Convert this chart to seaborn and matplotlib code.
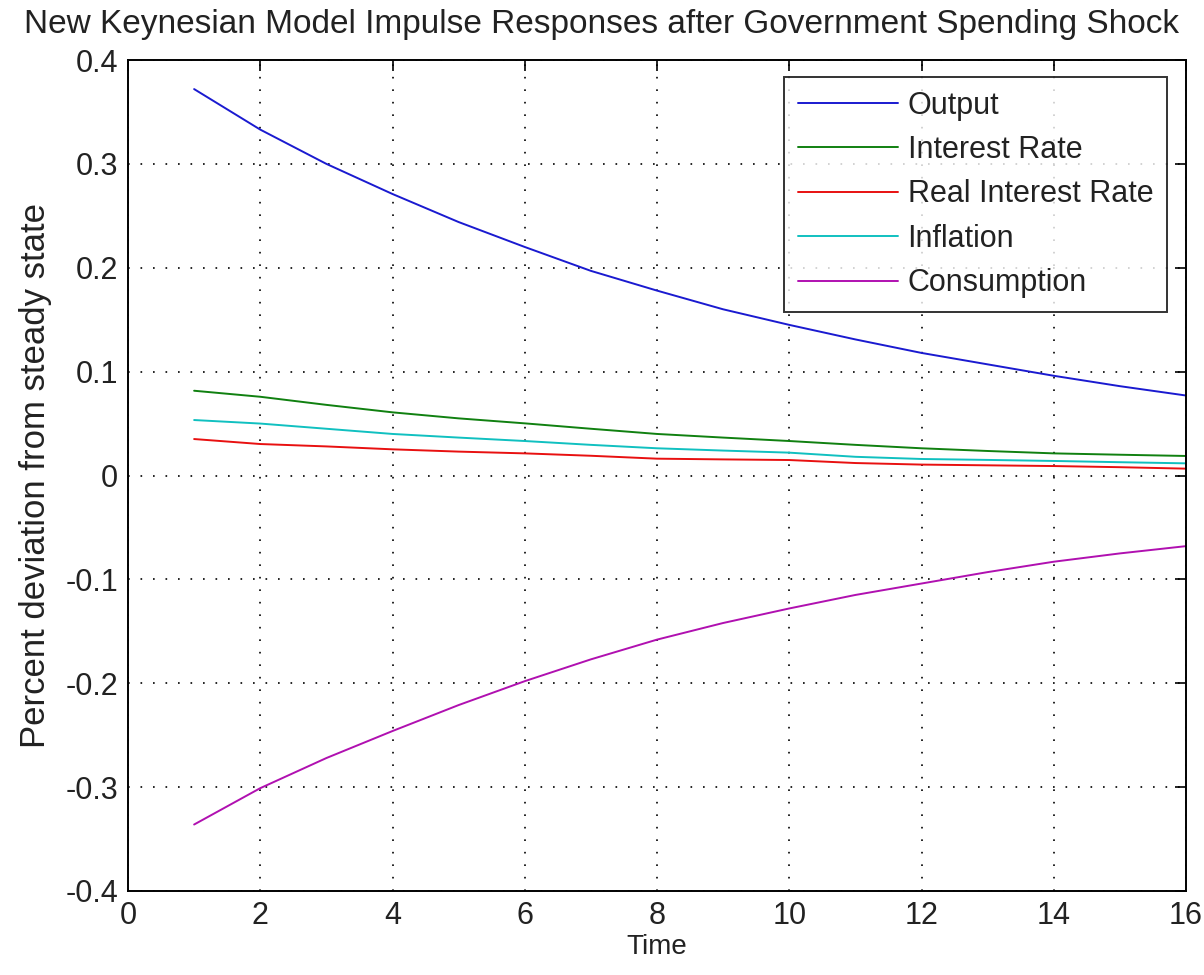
import pandas as pd
import matplotlib
matplotlib.use("Agg")
import matplotlib.pyplot as plt
import seaborn as sns

# === DATA ===
periods = list(range(1, 17))
output = [0.372, 0.333, 0.300, 0.271, 0.244, 0.220, 0.197, 0.178,
          0.160, 0.145, 0.131, 0.118, 0.107, 0.096, 0.086, 0.077]
interest_rate = [0.0816, 0.0758, 0.068, 0.0608, 0.055, 0.0502, 0.045, 0.040,
                 0.0365, 0.0332, 0.0295, 0.0262, 0.0236, 0.0213, 0.0200, 0.0188]
real_interest_rate = [0.0351, 0.0303, 0.028, 0.0252, 0.023, 0.0213, 0.019, 0.0162,
                      0.0155, 0.0149, 0.012, 0.0105, 0.0098, 0.0091, 0.008, 0.0066]
inflation = [0.0534, 0.050, 0.045, 0.040, 0.0365, 0.0332, 0.0295, 0.0262,
             0.024, 0.022, 0.018, 0.0159, 0.015, 0.014, 0.0128, 0.0117]
consumption = [-0.336, -0.301, -0.272, -0.246, -0.221, -0.198, -0.177, -0.158,
               -0.142, -0.128, -0.115, -0.104, -0.093, -0.083, -0.075, -0.068]

series_names = ["Output", "Interest Rate", "Real Interest Rate", "Inflation", "Consumption"]
series_colors = ["#1a1ad0", "#108010", "#e81010", "#10c0c0", "#b010b0"]

x_ticks = [0, 2, 4, 6, 8, 10, 12, 14, 16]
y_ticks = [-0.4, -0.3, -0.2, -0.1, 0, 0.1, 0.2, 0.3, 0.4]
y_tick_labels = ["-0.4", "-0.3", "-0.2", "-0.1", "0", "0.1", "0.2", "0.3", "0.4"]

# === BUILD LONG TABLE ===
df = pd.DataFrame({
    "Time": periods * 5,
    "value": output + interest_rate + real_interest_rate + inflation + consumption,
    "series": [n for n in series_names for _ in periods],
})

# === PLOT ===
sns.set_style("white")
plt.rcParams['font.family'] = ['Liberation Sans', 'DejaVu Sans']

fig = plt.figure(figsize=(12.04, 9.75), dpi=100)
ax = fig.add_axes([128 / 1204, 1 - 891 / 975, (1186 - 128) / 1204, (891 - 60) / 975])

sns.lineplot(data=df, x="Time", y="value", hue="series", hue_order=series_names,
             palette=series_colors, linewidth=1.4, ax=ax)

ax.set_xlim(0, 16)
ax.set_ylim(-0.4, 0.4)
ax.set_xticks(x_ticks)
ax.set_yticks(y_ticks)
ax.set_yticklabels(y_tick_labels)
ax.grid(True, linestyle=(0, (1, 6.5)), color="black", linewidth=1.2)
ax.tick_params(direction="in", length=8, width=1.2, top=True, right=True,
               labelsize=22, colors="black", pad=7)
for lbl in ax.get_xticklabels() + ax.get_yticklabels():
    lbl.set_color("#222222")
for s in ax.spines.values():
    s.set_visible(True)
    s.set_color("black")
    s.set_linewidth(1.4)

# title is centred on the figure, not the axes
fig.text(0.5, 1 - 33 / 975,
         "New Keynesian Model Impulse Responses after Government Spending Shock",
         ha="center", va="baseline", fontsize=24, color="#222222")
ax.set_xlabel("Time", fontsize=20, labelpad=2, color="#222222")
ax.set_ylabel("Percent deviation from steady state", fontsize=25, labelpad=10, color="#222222")

leg = ax.legend(loc="upper right", fontsize=22, frameon=True, fancybox=False,
                edgecolor="black", handlelength=3.3, handletextpad=0.3,
                borderpad=0.45, borderaxespad=0,
                labelspacing=0.47, bbox_to_anchor=(1039 / 1058, 1 - 17 / 831))
leg.get_frame().set_linewidth(1.4)
for t in leg.get_texts():
    t.set_color("#222222")

fig.savefig("out.png", dpi=100)
